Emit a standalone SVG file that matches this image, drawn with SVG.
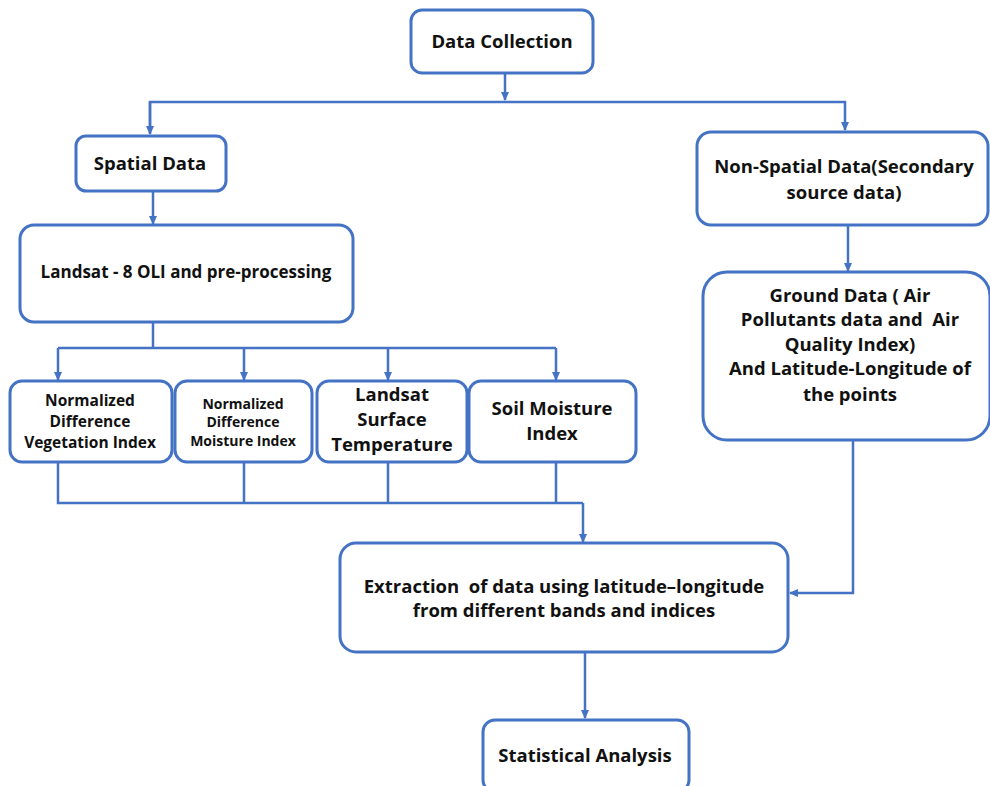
<svg xmlns="http://www.w3.org/2000/svg" width="990" height="786" viewBox="0 0 990 786">
<defs>
<marker id="ah" markerWidth="10" markerHeight="10" refX="8" refY="5" orient="auto" markerUnits="userSpaceOnUse">
<path d="M0,1 L9,5 L0,9 Z" fill="#4472C4"/>
</marker>
<style>
.box{fill:#fff;stroke:#4472C4;stroke-width:3}
.c{fill:none;stroke:#4472C4;stroke-width:2.5}
text{font-family:"Open Sans","Liberation Sans",sans-serif;font-weight:700;fill:#111;text-anchor:middle;white-space:pre}
.t18{font-size:18.5px}
.t17{font-size:17px}
.t15{font-size:15.5px}
.t14{font-size:14px}
</style>
</defs>
<rect width="990" height="786" fill="#fff"/>
<g id="connectors">
<path class="c" d="M505,73 V100" marker-end="url(#ah)"/>
<path class="c" d="M150,133 V102 H845 V130" marker-end="url(#ah)"/>
<path class="c" d="M150,102 V134" marker-end="url(#ah)"/>
<path class="c" d="M153,191 V224" marker-end="url(#ah)"/>
<path class="c" d="M153,322 V348"/>
<path class="c" d="M58,348 H556"/>
<path class="c" d="M58,348 V380" marker-end="url(#ah)"/>
<path class="c" d="M244,348 V380" marker-end="url(#ah)"/>
<path class="c" d="M388,348 V380" marker-end="url(#ah)"/>
<path class="c" d="M556,348 V380" marker-end="url(#ah)"/>
<path class="c" d="M58,462 V503 H583"/>
<path class="c" d="M244,462 V503"/>
<path class="c" d="M388,462 V503"/>
<path class="c" d="M556,462 V503"/>
<path class="c" d="M583,503 V542" marker-end="url(#ah)"/>
<path class="c" d="M848,225 V271" marker-end="url(#ah)"/>
<path class="c" d="M853,440 V593 H790" marker-end="url(#ah)"/>
<path class="c" d="M585,652 V718" marker-end="url(#ah)"/>
</g>
<g id="data-collection">
<rect class="box" x="411" y="10" width="182" height="63" rx="11"/>
<text class="t18" x="502" y="48">Data Collection</text>
</g>
<g id="spatial-data">
<rect class="box" x="76" y="136" width="150" height="55" rx="10"/>
<text class="t18" x="150" y="170">Spatial Data</text>
</g>
<g id="non-spatial-data">
<rect class="box" x="697" y="132" width="291" height="93" rx="14"/>
<text class="t18" x="844" y="173">Non-Spatial Data(Secondary</text>
<text class="t18" x="844" y="199">source data)</text>
</g>
<g id="landsat-oli">
<rect class="box" x="20" y="225" width="333" height="97" rx="14"/>
<text class="t17" x="186" y="278">Landsat - 8 OLI and pre-processing</text>
</g>
<g id="ndvi">
<rect class="box" x="10" y="381" width="162" height="81" rx="12"/>
<text class="t15" x="90" y="406">Normalized</text>
<text class="t15" x="90" y="427">Difference</text>
<text class="t15" x="90" y="448">Vegetation Index</text>
</g>
<g id="ndmi">
<rect class="box" x="175" y="381" width="137" height="81" rx="12"/>
<text class="t14" x="243" y="409">Normalized</text>
<text class="t14" x="243" y="427">Difference</text>
<text class="t14" x="243" y="446">Moisture Index</text>
</g>
<g id="lst">
<rect class="box" x="317" y="381" width="150" height="81" rx="12"/>
<text class="t18" x="392" y="401">Landsat</text>
<text class="t18" x="392" y="426">Surface</text>
<text class="t18" x="392" y="451">Temperature</text>
</g>
<g id="smi">
<rect class="box" x="469" y="381" width="167" height="81" rx="12"/>
<text class="t18" x="552" y="415">Soil Moisture</text>
<text class="t18" x="552" y="440">Index</text>
</g>
<g id="ground-data">
<rect class="box" x="703" y="272" width="287" height="168" rx="24"/>
<text class="t18" x="850" y="302">Ground Data ( Air</text>
<text class="t18" x="850" y="326">Pollutants data and  Air</text>
<text class="t18" x="850" y="351">Quality Index)</text>
<text class="t18" x="850" y="375">And Latitude-Longitude of</text>
<text class="t18" x="850" y="401">the points</text>
</g>
<g id="extraction">
<rect class="box" x="340" y="543" width="448" height="109" rx="16"/>
<text class="t18" x="564" y="593">Extraction  of data using latitude–longitude</text>
<text class="t18" x="564" y="617">from different bands and indices</text>
</g>
<g id="statistical-analysis">
<rect class="box" x="483" y="720" width="206" height="72" rx="12"/>
<text class="t18" x="585" y="762">Statistical Analysis</text>
</g>
</svg>
